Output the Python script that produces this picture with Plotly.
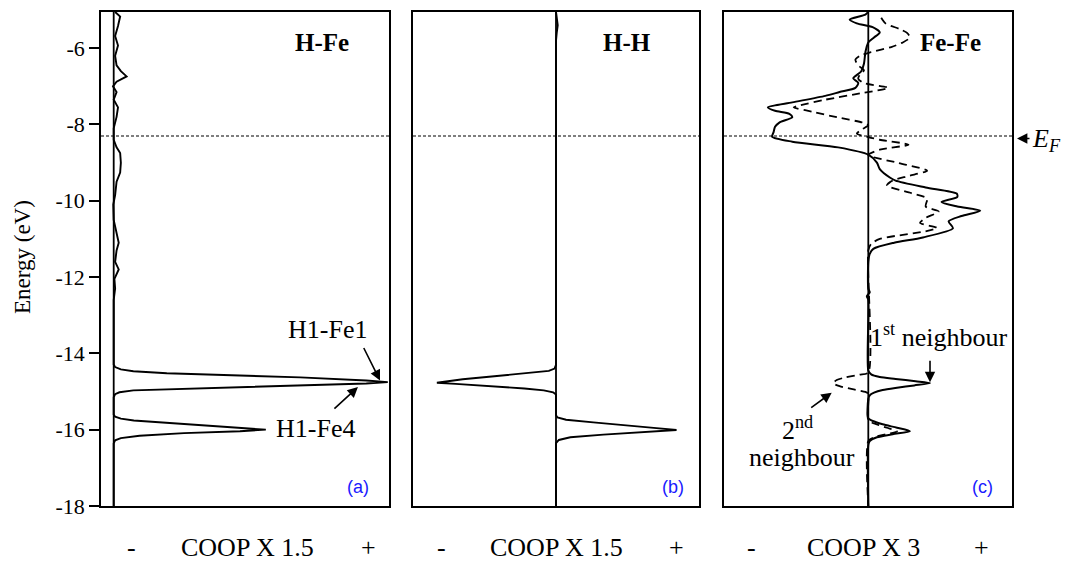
import plotly.graph_objects as go

W, H = 1065, 573
SERIF = "Liberation Serif"
SANS = "Liberation Sans"

# ---- data: (energy in eV, COOP in arbitrary units) ----
# H-Fe overlap population (panel a)
hfe_points = [
    (-5.05, 0.01), (-5.17, 0.045), (-5.42, 0.03), (-5.68, 0.01), (-5.93, 0.03),
    (-6.20, 0.01), (-6.45, 0.02), (-6.60, 0.05), (-6.74, 0.09), (-6.88, 0.02),
    (-7.00, -0.005), (-7.15, 0.02), (-7.35, 0.0), (-7.55, 0.03), (-7.80, 0.02),
    (-8.10, 0.0), (-8.40, 0.0), (-8.60, 0.02), (-8.75, 0.045), (-9.00, 0.05),
    (-9.26, 0.045), (-9.50, 0.02), (-9.85, 0.01), (-10.10, -0.003), (-10.50, 0.0),
    (-10.90, 0.02), (-11.10, 0.035), (-11.30, 0.02), (-11.60, 0.01), (-11.80, 0.035),
    (-12.05, 0.005), (-12.30, 0.01), (-12.60, 0.0), (-14.29, 0.0), (-14.36, 0.01),
    (-14.42, 0.05), (-14.47, 0.137), (-14.52, 0.37), (-14.58, 0.83), (-14.63, 1.30),
    (-14.71, 1.76), (-14.755, 1.91), (-14.79, 1.76), (-14.84, 1.30), (-14.88, 0.83),
    (-14.93, 0.37), (-14.97, 0.137), (-15.02, 0.04), (-15.07, 0.01), (-15.15, 0.0),
    (-15.60, 0.0), (-15.66, 0.01), (-15.71, 0.05), (-15.76, 0.14), (-15.82, 0.37),
    (-15.91, 0.72), (-15.97, 0.95), (-16.00, 1.06), (-16.04, 0.88), (-16.09, 0.49),
    (-16.16, 0.18), (-16.22, 0.05), (-16.28, 0.01), (-16.36, 0.0), (-18.00, 0.0),
]

# H-H overlap population (panel b)
hh_points = [
    (-5.05, 0.0), (-5.20, 0.005), (-5.40, 0.012), (-5.60, 0.005), (-5.80, 0.0),
    (-14.30, 0.0), (-14.40, -0.01), (-14.46, -0.05), (-14.52, -0.20), (-14.60, -0.43),
    (-14.68, -0.65), (-14.74, -0.78), (-14.77, -0.83), (-14.80, -0.70), (-14.86, -0.435),
    (-14.92, -0.22), (-14.97, -0.085), (-15.02, -0.02), (-15.08, 0.0),
    (-15.62, 0.0), (-15.68, 0.01), (-15.74, 0.07), (-15.81, 0.26), (-15.88, 0.49),
    (-15.96, 0.70), (-16.01, 0.84), (-16.06, 0.61), (-16.13, 0.33), (-16.20, 0.10),
    (-16.27, 0.02), (-16.35, 0.0), (-18.00, 0.0),
]

# Fe-Fe overlap population, first neighbours (panel c, solid)
fefe1_points = [
    (-5.05, 0.0), (-5.12, -0.02), (-5.25, -0.13), (-5.35, -0.08), (-5.45, 0.03),
    (-5.59, 0.08), (-5.72, 0.04), (-5.85, 0.0), (-6.10, -0.02), (-6.40, -0.03),
    (-6.61, -0.05), (-6.79, -0.105), (-6.91, -0.07), (-7.04, -0.09), (-7.15, -0.20),
    (-7.25, -0.30), (-7.42, -0.53), (-7.55, -0.70), (-7.64, -0.65), (-7.72, -0.55),
    (-7.81, -0.53), (-7.95, -0.62), (-8.06, -0.65), (-8.20, -0.66), (-8.32, -0.67),
    (-8.45, -0.53), (-8.60, -0.21), (-8.79, 0.0), (-9.00, 0.06), (-9.17, 0.08),
    (-9.39, 0.15), (-9.47, 0.19), (-9.65, 0.40), (-9.81, 0.616), (-9.90, 0.62),
    (-10.03, 0.51), (-10.15, 0.62), (-10.26, 0.78), (-10.40, 0.65), (-10.54, 0.56),
    (-10.72, 0.59), (-10.96, 0.38), (-11.10, 0.18), (-11.26, 0.035), (-11.39, 0.01),
    (-11.60, 0.0), (-12.30, 0.0), (-12.40, 0.01), (-12.50, -0.01), (-12.60, 0.0),
    (-14.45, 0.0), (-14.55, 0.02), (-14.62, 0.08), (-14.67, 0.19), (-14.73, 0.33),
    (-14.78, 0.43), (-14.84, 0.32), (-14.90, 0.20), (-14.96, 0.10), (-15.03, 0.04),
    (-15.10, 0.01), (-15.20, 0.0), (-15.70, 0.0), (-15.80, 0.05), (-15.86, 0.10),
    (-15.95, 0.20), (-16.04, 0.29), (-16.12, 0.17), (-16.20, 0.06), (-16.30, 0.01),
    (-16.40, 0.0), (-18.00, 0.0),
]

# Fe-Fe overlap population, second neighbours (panel c, dashed)
fefe2_points = [
    (-5.20, 0.09), (-5.35, 0.12), (-5.50, 0.22), (-5.60, 0.27), (-5.72, 0.29),
    (-5.85, 0.24), (-5.97, 0.16), (-6.10, 0.02), (-6.20, -0.06), (-6.30, -0.09),
    (-6.45, -0.07), (-6.58, -0.03), (-6.70, -0.06), (-6.80, -0.07), (-6.91, -0.035),
    (-7.04, 0.14), (-7.17, -0.035), (-7.35, -0.30), (-7.50, -0.48), (-7.55, -0.52),
    (-7.68, -0.37), (-7.81, -0.22), (-7.95, -0.04), (-8.02, 0.0), (-8.12, -0.04),
    (-8.24, -0.08), (-8.33, 0.0), (-8.40, 0.08), (-8.53, 0.28), (-8.66, 0.08),
    (-8.80, 0.0), (-9.00, 0.20), (-9.21, 0.41), (-9.35, 0.28), (-9.47, 0.17),
    (-9.60, 0.13), (-9.80, 0.30), (-9.94, 0.41), (-10.15, 0.40), (-10.28, 0.49),
    (-10.45, 0.40), (-10.58, 0.36), (-10.71, 0.48), (-10.80, 0.40), (-11.00, 0.08),
    (-11.13, 0.02), (-11.30, 0.0), (-14.50, 0.0), (-14.56, -0.06), (-14.63, -0.16),
    (-14.70, -0.22), (-14.78, -0.245), (-14.86, -0.20), (-14.94, -0.11), (-15.01, -0.02),
    (-15.06, 0.0), (-15.75, 0.0), (-15.85, 0.05), (-15.95, 0.13), (-16.05, 0.20),
    (-16.12, 0.12), (-16.20, 0.04), (-16.30, 0.0), (-18.00, 0.0),
]

fermi_level = -8.3
energy_range = [-18.0, -5.044]
energy_ticks = [-18, -16, -14, -12, -10, -8, -6]
energy_ticktext = ["-18", "-16", "-14", "-12", "-10", "-8", "-6"]

panel_titles = ["H-Fe", "H-H", "Fe-Fe"]
panel_tags = ["(a)", "(b)", "(c)"]
coop_scales = ["COOP X 1.5", "COOP X 1.5", "COOP X 3"]


def px(xp):
    return xp / W


def py(yp):
    return 1 - yp / H


# panel geometry (pixels) and COOP ranges
panel_px = [(101, 389), (413, 699), (724, 1012)]
coop_ranges = [[-0.0885, 1.9185], [-0.9965, 0.9965], [-1.0056, 1.0014]]
y_dom = [py(517.7), py(12)]

fig = go.Figure()


def add_curve(points, axis_idx, dash="solid", width=1.9, smooth=False):
    sfx = "" if axis_idx == 1 else str(axis_idx)
    line = dict(color="black", width=width, dash=dash)
    if smooth:
        line.update(shape="spline", smoothing=0.7)
    fig.add_trace(go.Scatter(
        x=[c for _, c in points], y=[e for e, _ in points],
        mode="lines", line=line,
        xaxis="x" + sfx, yaxis="y" + sfx, showlegend=False, hoverinfo="skip",
    ))


add_curve(hfe_points, 1)
add_curve(hh_points, 2)
add_curve(fefe2_points, 3, dash="8px,5px", width=1.8, smooth=True)
add_curve(fefe1_points, 3, width=2.0, smooth=True)

layout = dict(
    width=W, height=H, autosize=False, margin=dict(l=0, r=0, t=0, b=0),
    paper_bgcolor="white", plot_bgcolor="white",
    font=dict(family=SERIF, color="black"),
)
for i, ((x0, x1), rng) in enumerate(zip(panel_px, coop_ranges), start=1):
    sfx = "" if i == 1 else str(i)
    layout["xaxis" + sfx] = dict(
        domain=[px(x0), px(x1)], range=rng, anchor="y" + sfx,
        showline=True, mirror=True, linecolor="black", linewidth=1.6,
        showgrid=False, zeroline=False, showticklabels=False, ticks="",
        fixedrange=True,
    )
    ycfg = dict(
        domain=y_dom, range=energy_range, anchor="x" + sfx,
        showline=True, mirror=True, linecolor="black", linewidth=1.6,
        showgrid=False, zeroline=False, fixedrange=True,
    )
    if i == 1:
        ycfg.update(
            tickmode="array", tickvals=energy_ticks, ticktext=energy_ticktext,
            ticks="outside", ticklen=10, tickwidth=1.6, tickcolor="black",
            tickfont=dict(family=SERIF, size=22, color="black"),
        )
    else:
        ycfg.update(showticklabels=False, ticks="")
    layout["yaxis" + sfx] = ycfg
fig.update_layout(**layout)

# zero lines and Fermi level
for i in range(1, 4):
    sfx = "" if i == 1 else str(i)
    fig.add_shape(type="line", xref="x" + sfx, yref="y" + sfx + " domain",
                  x0=0, x1=0, y0=0, y1=1, line=dict(color="black", width=1.8))
    fig.add_shape(type="line", xref="x" + sfx + " domain", yref="y" + sfx,
                  x0=0, x1=1, y0=fermi_level, y1=fermi_level,
                  line=dict(color="black", width=1.1, dash="3px,2px"))


def label(text, xc, yc, font):
    return dict(text=text, x=px(xc), y=py(yc), xref="paper", yref="paper",
                showarrow=False, xanchor="center", yanchor="middle", font=font)


ann = []
title_font = dict(family=SERIF, size=25, color="black")
for title, xc in zip(panel_titles, [322, 627, 950]):
    ann.append(label("<b>%s</b>" % title, xc, 43, title_font))
tag_font = dict(family=SANS, size=18, color="#1a1aff")
for tag, xc in zip(panel_tags, [358, 673, 982]):
    ann.append(label(tag, xc, 498, tag_font))
coop_font = dict(family=SERIF, size=26, color="black")
for scale, (xm, xc, xp_) in zip(coop_scales, [(131, 247, 368), (441, 556, 676), (751, 863, 981)]):
    for txt, xx in (("-", xm), (scale, xc), ("+", xp_)):
        ann.append(label(txt, xx, 560, coop_font))
axis_title = label("Energy (eV)", 22, 263, dict(family=SERIF, size=23, color="black"))
axis_title["textangle"] = -90
ann.append(axis_title)
label_font = dict(family=SERIF, size=26, color="black")
ann.append(label("H1-Fe1", 327, 337, label_font))
ann.append(label("H1-Fe4", 315, 438, label_font))
ann.append(label("1<sup>st</sup> neighbour", 938, 343, label_font))
ann.append(label("2<sup>nd</sup>", 797, 438, label_font))
ann.append(label("neighbour", 802, 468, label_font))
# arrows
arrow_style = dict(showarrow=True, text="", arrowhead=2, arrowsize=1.3, arrowwidth=1.6,
                   arrowcolor="black", standoff=0)
ann.append(dict(x=1.856, y=-14.711, xref="x", yref="y", ax=-17, ay=-34, **arrow_style))
ann.append(dict(x=1.702, y=-14.883, xref="x", yref="y", ax=-25, ay=23, **arrow_style))
ann.append(dict(x=0.43, y=-14.755, xref="x3", yref="y3", ax=0, ay=-23, **arrow_style))
ann.append(dict(x=-0.255, y=-15.03, xref="x3", yref="y3", ax=-22, ay=16, **arrow_style))
# Fermi level marker
ann.append(dict(x=px(1017), y=py(141.7), xref="paper", yref="paper", ax=14, ay=0, **arrow_style))
ef = label("<i>E</i><sub><i>F</i></sub>", 1030, 143, dict(family=SERIF, size=26, color="black"))
ef["xanchor"] = "left"
ann.append(ef)
fig.update_layout(annotations=ann)

fig.write_html("out.html", config={"responsive": False})
